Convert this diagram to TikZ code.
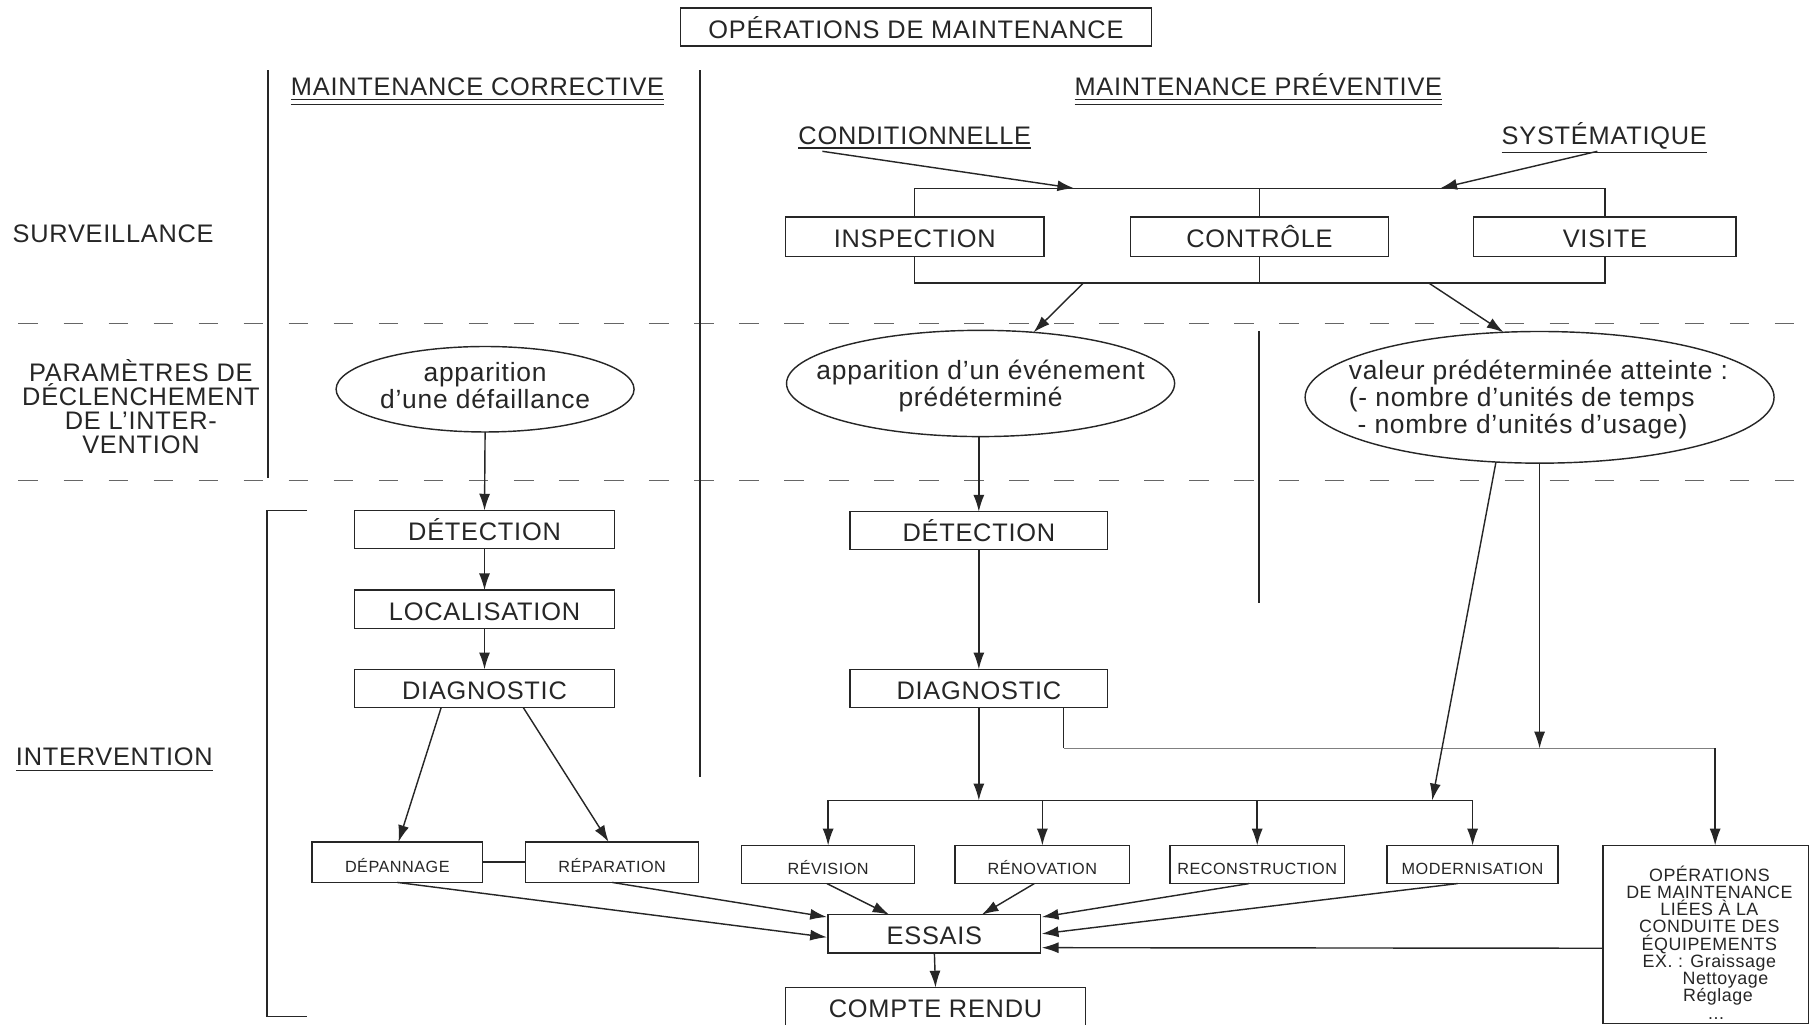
\documentclass[tikz,border=0pt]{standalone}
\usepackage{fontspec}
\setmainfont{Liberation Sans}[LetterSpace=3]
\usetikzlibrary{arrows.meta,shapes.geometric,calc}
\definecolor{ink}{HTML}{262626}
\begin{document}
\begin{tikzpicture}[x=0.02cm,y=-0.02cm,
  line width=0.7pt, color=ink,
  >={Latex[length=2.9mm,width=1.9mm]},
  every node/.style={inner sep=0pt, outer sep=0pt},
  captxt/.style={font=\fontsize{12.5}{11.8}\selectfont},
  capbox/.style={captxt, draw, text height=11pt, text depth=0pt},
  smbox/.style={font=\fontsize{8}{8}\selectfont, draw, text height=10pt, text depth=0pt},
  lctxt/.style={font=\fontsize{13}{11.8}\selectfont, align=center},
  ellbox/.style={draw, ellipse},
  dimwh/.style 2 args={minimum width=#1*0.02cm, minimum height=#2*0.02cm},
  dashsep/.style={black!60, line width=0.8pt, dash pattern=on 0.34cm off 0.44cm},
]
\fill[white] (0,0) rectangle (1568,887);
\useasboundingbox (0,0) rectangle (1568,887);

% ---- frame lines
\draw[dashsep] (16,280) -- (1560,280);
\draw[dashsep] (16,416) -- (1560,416);
\draw (232,61) -- (232,414);
\draw (606,61) -- (606,673);
\draw (1090,287) -- (1090,522);
\draw (266,442) -- (231,442) -- (231,880) -- (266,880);

% ---- titles
\node[capbox, dimwh={408}{33}] (title) at (793,23.5) {OPÉRATIONS DE MAINTENANCE};
\node[captxt, anchor=base] (mc) at (413.5,83) {MAINTENANCE CORRECTIVE};
\draw[line width=0.6pt] ($(mc.south west)+(0,3)$) -- ($(mc.south east)+(0,3)$);
\draw[line width=0.6pt] ($(mc.south west)+(0,7)$) -- ($(mc.south east)+(0,7)$);
\node[captxt, anchor=base] (mp) at (1089.5,83) {MAINTENANCE PRÉVENTIVE};
\draw[line width=0.6pt] ($(mp.south west)+(0,3)$) -- ($(mp.south east)+(0,3)$);
\draw[line width=0.6pt] ($(mp.south west)+(0,7)$) -- ($(mp.south east)+(0,7)$);
\node[captxt, anchor=base] (cond) at (792,125) {CONDITIONNELLE};
\draw[line width=0.6pt] ($(cond.south west)+(0,3)$) -- ($(cond.south east)+(0,3)$);
\node[captxt, anchor=base] (syst) at (1389,125) {SYSTÉMATIQUE};
\draw[line width=0.6pt] ($(syst.south west)+(0,3)$) -- ($(syst.south east)+(0,3)$);

% ---- left labels
\node[captxt, anchor=base] (surv) at (98,210) {SURVEILLANCE};
\node[captxt, align=center] (param) at (122,352) {PARAMÈTRES DE\\DÉCLENCHEMENT\\DE L'INTER-\\VENTION};
\node[captxt, anchor=base] (interv) at (99,663) {INTERVENTION};
\draw[line width=0.6pt] ($(interv.south west)+(0,4)$) -- ($(interv.south east)+(0,4)$);

% ---- surveillance
\node[capbox, dimwh={224}{34}] (insp) at (792,205) {INSPECTION};
\node[capbox, dimwh={223}{34}] (ctrl) at (1090.5,205) {CONTRÔLE};
\node[capbox, dimwh={227}{34}] (visite) at (1389.5,205) {VISITE};
\coordinate (topbar) at (0,163);
\coordinate (botbar) at (0,245);
\draw (insp.north) -- (insp.north |- topbar) -- (visite.north |- topbar) -- (visite.north);
\draw (ctrl.north) -- (ctrl.north |- topbar);
\draw (insp.south) -- (insp.south |- botbar) -- (visite.south |- botbar) -- (visite.south);
\draw (ctrl.south) -- (ctrl.south |- botbar);
\coordinate (condA) at (712,131);
\coordinate (condB) at (930,163);
\coordinate (systA) at (1383,131);
\coordinate (systB) at (1247,163);
\draw[->] (condA) -- (condB);
\draw[->] (systA) -- (systB);

% ---- ellipses
\node[ellbox, dimwh={258}{74}] (e1) at (420,337) {};
\node[lctxt] (e1t) at (420,334) {apparition\\d'une défaillance};
\node[ellbox, dimwh={336}{92}] (e2) at (849,332) {};
\node[lctxt] (e2t) at (849,334) {apparition d'un événement\\prédéterminé};
\node[ellbox, dimwh={406}{114}] (e3) at (1333,344) {};
\node[lctxt, align=left] (e3t) at (1332,346) {valeur prédéterminée atteinte :\\(- nombre d'unités de temps\\\phantom{(}- nombre d'unités d'usage)};
\coordinate (bA) at (938,245);
\coordinate (bB) at (1237,245);
\draw[->] (bA) -- (e2.44);
\draw[->] (bB) -- (e3.119);

% ---- corrective column
\node[capbox, dimwh={225}{33}] (det1) at (419.5,458.5) {DÉTECTION};
\node[capbox, dimwh={225}{33}] (loc1) at (419.5,527.5) {LOCALISATION};
\node[capbox, dimwh={225}{33}] (diag1) at (419.5,596) {DIAGNOSTIC};
\draw[->] (e1.south) -- (det1.north);
\draw[->] (det1) -- (loc1);
\draw[->] (loc1) -- (diag1);
\node[smbox, dimwh={148}{35}] (depan) at (344,746.5) {DÉPANNAGE};
\node[smbox, dimwh={150}{35}] (repar) at (530,746.5) {RÉPARATION};
\draw[->] ($(diag1.south)+(-37.5,0)$) -- ($(depan.north)+(1,0)$);
\draw[->] ($(diag1.south)+(33.5,0)$) -- ($(repar.north)+(-3,0)$);
\draw (depan.east) -- (repar.west);

% ---- preventive column
\node[capbox, dimwh={223}{33}] (det2) at (847.5,459.5) {DÉTECTION};
\node[capbox, dimwh={223}{33}] (diag2) at (847.5,596) {DIAGNOSTIC};
\draw[->] (det2.north |- e2.south) -- (det2.north);
\draw[->] (det2) -- (diag2);

\node[smbox, dimwh={150}{33}] (revis) at (717,748.5) {RÉVISION};
\node[smbox, dimwh={151}{33}] (renov) at (902.5,748.5) {RÉNOVATION};
\node[smbox, dimwh={151}{33}] (recon) at (1088.5,748.5) {RECONSTRUCTION};
\node[smbox, dimwh={148}{33}] (modern) at (1275,748.5) {MODERNISATION};
\node[draw, dimwh={178}{154}] (ops) at (1477,809) {};
\node[font=\fontsize{8.8}{8.5}\selectfont, align=center] (opst) at (1480,816)
  {OPÉRATIONS\\DE MAINTENANCE\\LIÉES À LA\\CONDUITE DES\\ÉQUIPEMENTS\\EX. : Graissage\hspace*{1.7em}\\\hspace*{1.8em}Nettoyage\\\hspace*{0.96em}Réglage\\\hspace*{0.76em}...};

\coordinate (dist) at (0,693);
\draw[->] (diag2.south) -- (diag2.south |- dist);
\draw (revis.north |- dist) -- (modern.north |- dist);
\foreach \n in {revis,renov,recon,modern} \draw[->] (\n.north |- dist) -- (\n.north);

\coordinate (opsbar) at (0,648);
\coordinate (d2r) at ($(diag2.south)+(73.5,0)$);
\coordinate (opsin) at ($(ops.north)+(8,0)$);
\draw (d2r) -- (d2r |- opsbar);
\draw[black!50] (d2r |- opsbar) -- (opsin |- opsbar);
\draw[->] (opsin |- opsbar) -- (opsin);
\draw[->] (e3.south) -- (e3.south |- opsbar);
\coordinate (slantEnd) at (1240,693);
\draw[->] (e3.236) -- (slantEnd);

% ---- essais
\node[capbox, dimwh={184}{33}] (essais) at (809,808.5) {ESSAIS};
\node[capbox, dimwh={260}{33}] (cr) at (810,871.5) {COMPTE RENDU};
\draw[->] (essais.south) -- (cr.north);
\draw[->] (depan.south) -- ($(essais.west)+(-1,3)$);
\draw[->] (repar.south) -- ($(essais.north west)+(-1,2)$);
\draw[->] ($(revis.south)+(-1,0)$) -- ($(essais.north west)+(53,0)$);
\draw[->] ($(renov.south)+(-7,0)$) -- ($(essais.north)+(41,0)$);
\draw[->] ($(recon.south)+(-7,0)$) -- ($(essais.north east)+(1,2)$);
\draw[->] ($(modern.south)+(-13,0)$) -- ($(essais.east)+(1,0)$);
\draw[->] ($(ops.west)+(0,12)$) -- ($(essais.east)+(1,12)$);
\end{tikzpicture}
\end{document}
